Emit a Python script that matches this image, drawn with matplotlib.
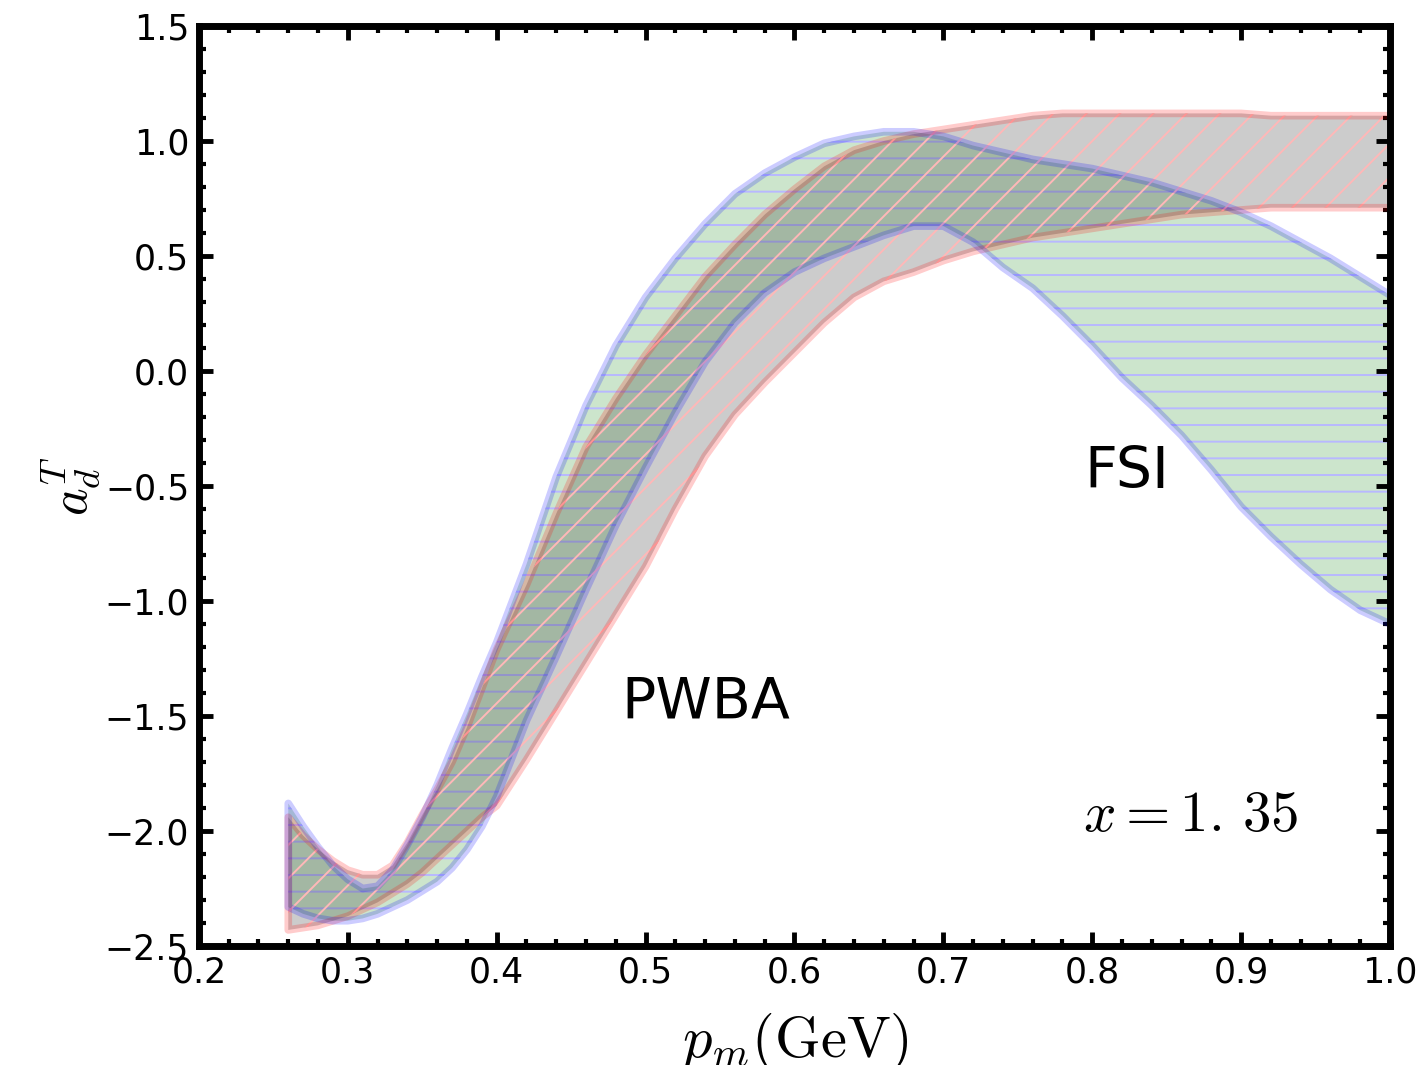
import numpy as np
import matplotlib
matplotlib.use("Agg")
import matplotlib.pyplot as plt
from matplotlib.ticker import MultipleLocator

plt.rcParams.update({
    "mathtext.fontset": "cm",
    "hatch.linewidth": 1.4,
    "font.family": "DejaVu Sans",
})

# p_m grid (GeV)
pm = [0.26, 0.27, 0.28, 0.29, 0.30, 0.31, 0.32, 0.33, 0.34, 0.35, 0.36, 0.37,
      0.38, 0.39, 0.40, 0.42, 0.44, 0.46, 0.48, 0.50, 0.52, 0.54, 0.56, 0.58,
      0.60, 0.62, 0.64, 0.66, 0.68, 0.70, 0.72, 0.74, 0.76, 0.78, 0.80, 0.82,
      0.84, 0.86, 0.88, 0.90, 0.92, 0.94, 0.96, 0.98, 1.00]

# PWBA band edges
pwba_hi = [-1.94, -2.02, -2.08, -2.13, -2.17, -2.19, -2.19, -2.15, -2.05, -1.93, -1.82, -1.70,
           -1.55, -1.38, -1.21, -0.93, -0.62, -0.33, -0.12, 0.07, 0.24, 0.41, 0.55, 0.68,
           0.79, 0.89, 0.96, 1.00, 1.03, 1.05, 1.07, 1.09, 1.11, 1.12, 1.12, 1.12,
           1.12, 1.12, 1.12, 1.12, 1.11, 1.11, 1.11, 1.11, 1.11]
pwba_lo = [-2.43, -2.42, -2.41, -2.39, -2.37, -2.34, -2.31, -2.27, -2.23, -2.18, -2.12, -2.06,
           -2.00, -1.94, -1.89, -1.69, -1.48, -1.27, -1.06, -0.85, -0.60, -0.37, -0.19, -0.05,
           0.08, 0.21, 0.32, 0.39, 0.43, 0.48, 0.52, 0.55, 0.58, 0.60, 0.62, 0.64,
           0.66, 0.68, 0.69, 0.70, 0.71, 0.71, 0.71, 0.71, 0.71]

# FSI band edges
fsi_hi = [-1.88, -1.98, -2.07, -2.15, -2.21, -2.25, -2.24, -2.17, -2.06, -1.94, -1.80, -1.64,
          -1.49, -1.33, -1.18, -0.84, -0.46, -0.15, 0.11, 0.32, 0.49, 0.64, 0.77, 0.86,
          0.93, 0.99, 1.02, 1.04, 1.04, 1.02, 0.98, 0.95, 0.92, 0.90, 0.88, 0.85,
          0.82, 0.78, 0.74, 0.69, 0.63, 0.56, 0.49, 0.41, 0.33]
fsi_lo = [-2.33, -2.36, -2.38, -2.39, -2.39, -2.38, -2.36, -2.33, -2.30, -2.26, -2.22, -2.16,
          -2.08, -1.98, -1.85, -1.52, -1.24, -0.95, -0.67, -0.42, -0.18, 0.04, 0.21, 0.34,
          0.43, 0.49, 0.54, 0.59, 0.63, 0.63, 0.56, 0.45, 0.36, 0.24, 0.11, -0.03,
          -0.15, -0.28, -0.43, -0.59, -0.72, -0.84, -0.95, -1.04, -1.10]

grey = (0, 0, 0, 0.2)
green = (0, 0.5, 0, 0.2)
pink = (1, 0, 0, 0.2)
lav = (0, 0, 1, 0.2)
pink_hatch = (1, 0.72, 0.72, 1.0)
lav_hatch = (0.72, 0.72, 1, 1.0)


def outline(x, hi, lo):
    # upper curve backwards, down the left end, lower curve forwards
    xs = list(x[::-1]) + list(x)
    ys = list(hi[::-1]) + list(lo)
    return xs, ys


fig = plt.figure(figsize=(14.21, 10.65), dpi=100)
ax = fig.add_axes([0.140, 0.1117, 0.8382, 0.8639])

ax.fill_between(pm, fsi_hi, fsi_lo, facecolor=green, edgecolor=lav_hatch,
                hatch='-', linewidth=0)
ax.fill_between(pm, pwba_hi, pwba_lo, facecolor=grey, edgecolor=pink_hatch,
                hatch='/', linewidth=0)

xs, ys = outline(pm, pwba_hi, pwba_lo)
ax.plot(xs, ys, color=pink, lw=5.5, solid_joinstyle='round')
xs, ys = outline(pm, fsi_hi, fsi_lo)
ax.plot(xs, ys, color=lav, lw=5.5, solid_joinstyle='round')

ax.set_xlim(0.2, 1.0)
ax.set_ylim(-2.5, 1.5)
ax.xaxis.set_major_locator(MultipleLocator(0.1))
ax.xaxis.set_minor_locator(MultipleLocator(0.02))
ax.yaxis.set_major_locator(MultipleLocator(0.5))
ax.yaxis.set_minor_locator(MultipleLocator(0.1))
ax.tick_params(which='both', direction='in', top=True, right=True,
               labelsize=25, pad=7)
ax.tick_params(which='major', length=10, width=3.5)
ax.tick_params(which='minor', length=5, width=3)
for s in ax.spines.values():
    s.set_linewidth(5)

ax.text(0.484, -1.51, 'PWBA', fontsize=41)
ax.text(0.795, -0.51, 'FSI', fontsize=41)
ax.text(0.794, -2.0, r'$x=1.\,35$', fontsize=41)

ax.set_xlabel(r'$p_m(\mathrm{GeV})$', fontsize=42, labelpad=15)
ax.set_ylabel(r'$a_d^T$', fontsize=38, labelpad=2)

fig.savefig('out.png', dpi=100)
